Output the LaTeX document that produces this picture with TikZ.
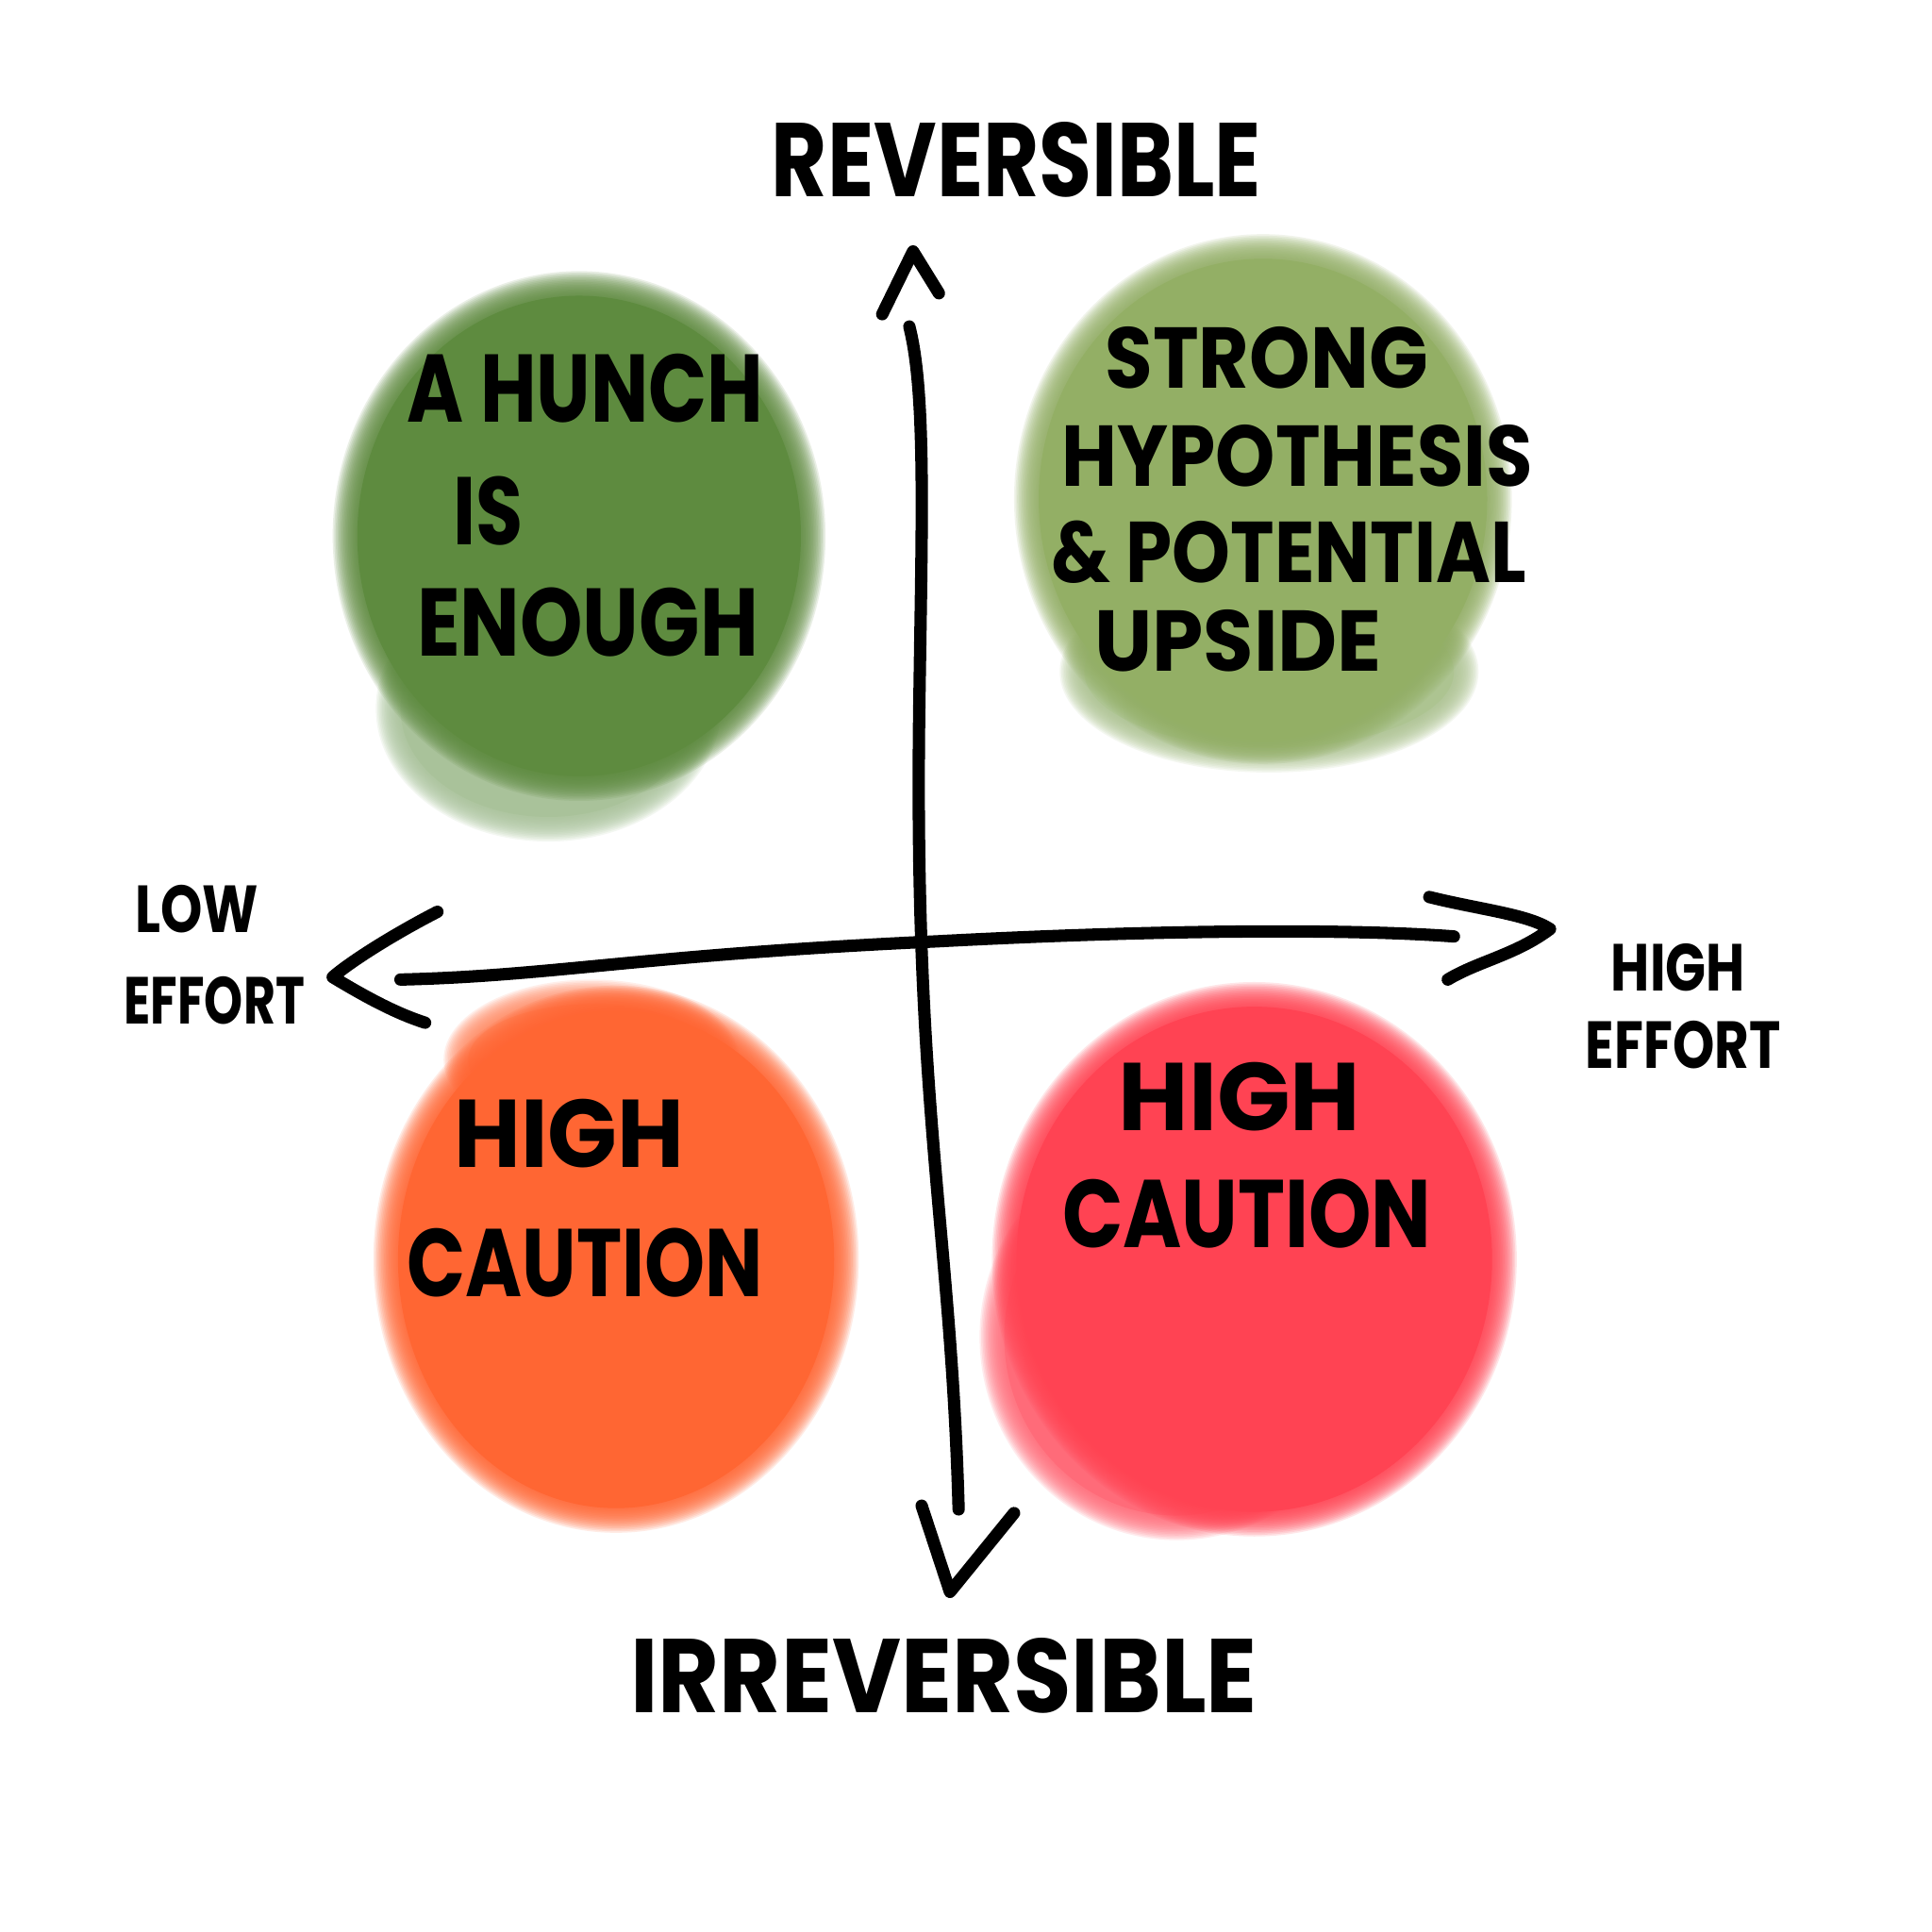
\documentclass[tikz,border=0pt]{standalone}
\usepackage{fontspec}
\setmainfont{Poppins}
\usetikzlibrary{calc}
\definecolor{hunchgreen}{HTML}{5E8B3F}
\definecolor{hunchpale}{HTML}{A9C29A}
\definecolor{stronggreen}{HTML}{93AF65}
\definecolor{strongpale}{HTML}{ADC491}
\definecolor{cautionorange}{HTML}{FF6633}
\definecolor{orangepale}{HTML}{FF8A62}
\definecolor{cautionred}{HTML}{FF4353}
\definecolor{redpale}{HTML}{FF6B79}
\def\softblob[#1](#2)(#3:#4){\foreach \k in {0,...,15}{\fill[#1, opacity=0.13] (#2) ellipse ({(#3-1.25*\k)*1pt} and {(#4-1.25*\k)*1pt});}
	\fill[#1] (#2) ellipse ({(#3-20)*1pt} and {(#4-20)*1pt});}
\newcommand{\hand}[2][0.8]{\scalebox{#1}[1]{\bfseries #2}}

\begin{document}
\begin{tikzpicture}[x=1pt,y=-1pt,
	axis/.style={line width=10pt, line cap=round, line join=round},
	quad/.style={font=\fontsize{78}{80}\selectfont, inner sep=0pt},
	strong/.style={font=\fontsize{70}{72}\selectfont, inner sep=0pt},
	pole/.style={font=\fontsize{85}{90}\selectfont, inner sep=0pt},
	effort/.style={font=\fontsize{54}{60}\selectfont, inner sep=0pt}]
			%%%%% START %%%%%
			
			\fill[white] (0,0) rectangle (1568,1568);
			
			% blobs
			\softblob[hunchpale](445,575)(140:108)
			\softblob[hunchgreen](470,435)(200:215)
			\softblob[strongpale](1030,545)(170:82)
			\softblob[stronggreen](1025,405)(202:215)
			\softblob[orangepale](480,860)(120:65)
			\softblob[cautionorange](500,1022)(197:222)
			\softblob[redpale](955,1085)(160:165)
			\softblob[cautionred](1018,1022)(213:225)
			
			% axes
			\coordinate (top) at (738,265);
			\coordinate (bot) at (778,1225);
			\coordinate (lft) at (325,795);
			\coordinate (rgt) at (1180,760);
			\draw[axis] (top) .. controls (752,320) and (748,430) .. (746,580) .. controls (742,900) and (772,1000) .. (bot);
			\draw[axis] (lft) .. controls (450,792) and (520,775) .. (760,764) .. controls (950,754) and (1100,754) .. (rgt);
			
			\coordinate (upL) at (716,255);
			\coordinate (upT) at (741,204);
			\coordinate (upR) at (762,238);
			\draw[axis] (upL) -- (upT) -- (upR);
			\coordinate (dnL) at (748,1222);
			\coordinate (dnT) at (771,1292);
			\coordinate (dnR) at (823,1228);
			\draw[axis] (dnL) -- (dnT) -- (dnR);
			\coordinate (ltU) at (355,740);
			\coordinate (ltT) at (270,793);
			\coordinate (ltD) at (345,830);
			\draw[axis] (ltU) .. controls (320,758) and (285,780) .. (ltT) .. controls (295,808) and (320,822) .. (ltD);
			\coordinate (rtU) at (1160,728);
			\coordinate (rtT) at (1258,754);
			\coordinate (rtD) at (1175,795);
			\draw[axis] (rtU) .. controls (1200,738) and (1240,742) .. (rtT) .. controls (1230,775) and (1200,780) .. (rtD);
			
			% pole labels
			\node[pole] (rev) at (825,130) {\hand[0.82]{REVERSIBLE}};
			\node[pole] (irrev) at (766,1360) {\hand[0.9]{IRREVERSIBLE}};
			\node[effort] (lowA) at (160,738) {\hand{LOW}};
			\node[effort] (lowB) at (174,812) {\hand[0.74]{EFFORT}};
			\node[effort] (highA) at (1362,785) {\hand{HIGH}};
			\node[effort] (highB) at (1366,848) {\hand{EFFORT}};
			
			% quadrant labels
			\node[quad] (hunchA) at (475,315) {\hand{A HUNCH}};
			\node[quad] (hunchB) at (396,415) {\hand{IS}};
			\node[quad] (hunchC) at (477,505) {\hand[0.83]{ENOUGH}};
			
			\node[strong] (strongA) at (1028,290) {\hand[0.9]{STRONG}};
			\node[strong] (strongB) at (1053,370) {\hand[0.88]{HYPOTHESIS}};
			\node[strong] (strongC) at (1046,448) {\hand[0.86]{\& POTENTIAL}};
			\node[strong] (strongD) at (1005,520) {\hand[0.95]{UPSIDE}};
			
			\node[quad] (orangeA) at (462,920) {\hand[0.95]{HIGH}};
			\node[quad] (orangeB) at (475,1025) {\hand{CAUTION}};
			
			\node[quad] (redA) at (1006,890) {\hand[1.0]{HIGH}};
			\node[quad] (redB) at (1012,985) {\hand[0.83]{CAUTION}};
			
			%%%%% END %%%%%
		\end{tikzpicture}
\end{document}
